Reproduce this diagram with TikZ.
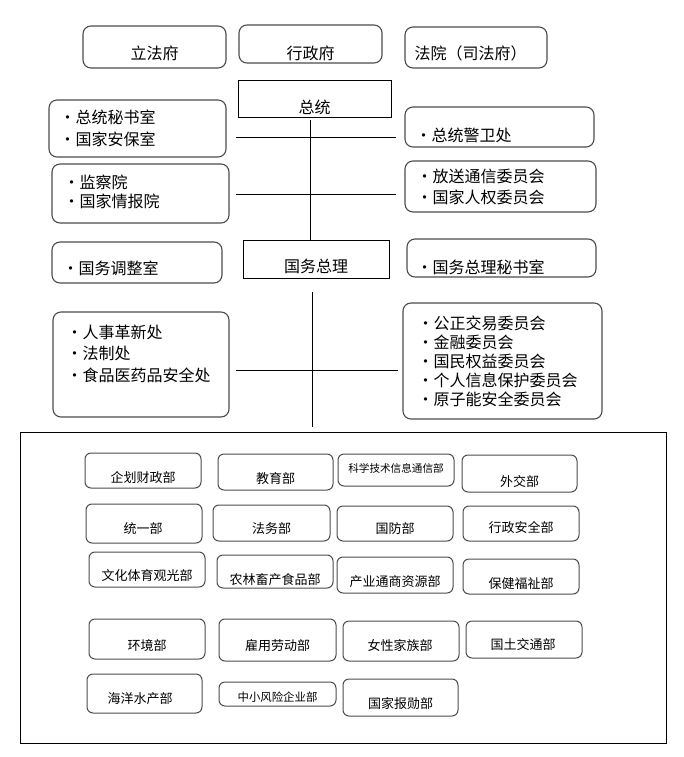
\documentclass[tikz,border=0pt]{standalone}
\usepackage{fontspec}
\setmainfont{Noto Sans CJK SC}
\usetikzlibrary{positioning}

\newcommand{\itm}{\makebox[2pt]{·}\hspace{7pt}}

\begin{document}
\begin{tikzpicture}[x=1pt,y=-1pt,font=\fontsize{16}{21}\selectfont,
  branch/.style={draw=black!70, line width=1.1pt, rounded corners=8pt, inner sep=0pt},
  chief/.style={draw=black, line width=0.8pt, inner sep=0pt},
  ministry/.style={draw=black!70, line width=1pt, rounded corners=6pt, inner sep=0pt},
  link/.style={draw=black, line width=0.8pt},
  every label/.style={inner sep=0pt},
  items/.style={anchor=west, align=left, inner sep=0pt}]

  \useasboundingbox (0,0) rectangle (683,757);

  % three branches
  \node[branch, minimum width=143pt, minimum height=42pt, label={[yshift=-6pt]center:立法府}] (lfb) at (154.5,47) {};
  \node[branch, minimum width=143pt, minimum height=38pt, label={[yshift=-9pt]center:行政府}] (xzf) at (310.5,44) {};
  \node[branch, minimum width=142pt, minimum height=41pt, label={[items, xshift=10pt, yshift=-5.5pt]west:法院（司法府）}] (fy) at (476,47.5) {};

  % president and prime minister
  \node[chief, minimum width=153pt, minimum height=37pt, label={[yshift=-8.5pt]center:总统}] (zt) at (314.5,98.5) {};
  \node[chief, minimum width=146pt, minimum height=38pt, label={[yshift=-7pt]center:国务总理}] (zl) at (316,259) {};

  % offices on the left
  \node[branch, minimum width=177pt, minimum height=57pt,
    label={[items, xshift=18pt, font=\fontsize{16}{22}\selectfont]west:\itm 总统秘书室\\\itm 国家安保室}] (mss) at (137.5,128.5) {};
  \node[branch, minimum width=177pt, minimum height=59pt,
    label={[items, xshift=19pt, yshift=2pt, font=\fontsize{16}{19}\selectfont]west:\itm 监察院\\\itm 国家情报院}] (jcy) at (140.5,193.5) {};
  \node[branch, minimum width=170pt, minimum height=41pt,
    label={[items, xshift=18pt, yshift=-5.5pt]west:\itm 国务调整室}] (twt) at (137,262.5) {};
  \node[branch, minimum width=176pt, minimum height=105pt,
    label={[items, xshift=21pt, yshift=11pt, font=\fontsize{16}{21.5}\selectfont]west:\itm 人事革新处\\\itm 法制处\\\itm 食品医药品安全处}] (rsc) at (141,364.5) {};

  % offices on the right
  \node[branch, minimum width=189pt, minimum height=40pt,
    label={[items, xshift=18pt, yshift=-8pt]west:\itm 总统警卫处}] (jwc) at (499.5,127) {};
  \node[branch, minimum width=191pt, minimum height=51pt,
    label={[items, xshift=19pt]west:\itm 放送通信委员会\\\itm 国家人权委员会}] (fsw) at (500.5,186.5) {};
  \node[branch, minimum width=189pt, minimum height=38pt,
    label={[items, xshift=17pt, yshift=-9pt]west:\itm 国务总理秘书室}] (zlm) at (501.5,258) {};
  \node[branch, minimum width=199pt, minimum height=116pt,
    label={[items, xshift=22pt, font=\fontsize{16}{19}\selectfont]west:\itm 公正交易委员会\\\itm 金融委员会\\\itm 国民权益委员会\\\itm 个人信息保护委员会\\\itm 原子能安全委员会}] (gzw) at (502.5,361) {};

  % ministries
  \node[chief, minimum width=646pt, minimum height=311pt] (cab) at (343,587.5) {};

  \begin{scope}[font=\fontsize{13}{16}\selectfont]
  \node[ministry, minimum width=116pt, minimum height=35pt, label={[yshift=-7.5pt]center:企划财政部}] (qhcz) at (143,470.5) {};
  \node[ministry, minimum width=115pt, minimum height=36pt, label={[yshift=-7pt]center:教育部}] (jy) at (275.5,472) {};
  \node[ministry, minimum width=116pt, minimum height=32pt, label={[yshift=2pt, font=\fontsize{10.6}{12}\selectfont]center:科学技术信息通信部}] (kxjs) at (396,470) {};
  \node[ministry, minimum width=115pt, minimum height=37pt, label={[yshift=-8.5pt]center:外交部}] (wj) at (519.5,473.5) {};

  \node[ministry, minimum width=116pt, minimum height=39pt, label={[xshift=-1pt, yshift=-5.5pt]center:统一部}] (ty) at (144,523.5) {};
  \node[ministry, minimum width=117pt, minimum height=36pt, label={[yshift=-6pt]center:法务部}] (fw) at (271.5,523) {};
  \node[ministry, minimum width=116pt, minimum height=35pt, label={[yshift=-5.5pt]center:国防部}] (gf) at (395,523.5) {};
  \node[ministry, minimum width=116pt, minimum height=35pt, label={[yshift=-4.5pt]center:行政安全部}] (xzaq) at (521,523.5) {};

  \node[ministry, minimum width=116pt, minimum height=35pt, label={[yshift=-6.5pt]center:文化体育观光部}] (whty) at (147,569.5) {};
  \node[ministry, minimum width=116pt, minimum height=33pt, label={[yshift=-8.5pt]center:农林畜产食品部}] (nlxc) at (275,571.5) {};
  \node[ministry, minimum width=116pt, minimum height=36pt, label={[yshift=-7pt]center:产业通商资源部}] (cytz) at (395,575) {};
  \node[ministry, minimum width=116pt, minimum height=35pt, label={[yshift=-7.5pt]center:保健福祉部}] (bjfz) at (521,576.5) {};

  \node[ministry, minimum width=116pt, minimum height=40pt, label={[yshift=-7pt]center:环境部}] (hj) at (147,639) {};
  \node[ministry, minimum width=117pt, minimum height=42pt, label={[yshift=-6pt]center:雇用劳动部}] (gyld) at (277.5,640) {};
  \node[ministry, minimum width=116pt, minimum height=40pt, label={[xshift=-1pt, yshift=-4pt]center:女性家族部}] (nxjz) at (401,641) {};
  \node[ministry, minimum width=116pt, minimum height=37pt, label={[xshift=-1pt, yshift=-5.5pt]center:国土交通部}] (gtjt) at (524,639.5) {};

  \node[ministry, minimum width=115pt, minimum height=39pt, label={[xshift=-4.5pt, yshift=-5.5pt]center:海洋水产部}] (hysc) at (144.5,693.5) {};
  \node[ministry, minimum width=117pt, minimum height=24pt, label={[yshift=-3pt, font=\fontsize{11.4}{13}\selectfont]center:中小风险企业部}] (zxqy) at (277.5,694) {};
  \node[ministry, minimum width=115pt, minimum height=37pt, label={[yshift=-6.5pt]center:国家报勋部}] (gjbx) at (400.5,697.5) {};
  \end{scope}

  % connectors
  \coordinate (v1t) at (310,120);
  \coordinate (h1w) at (236,137);
  \coordinate (h1e) at (396,137);
  \coordinate (h2w) at (236,194);
  \coordinate (h2e) at (396,194);
  \coordinate (v2t) at (312,292);
  \coordinate (v2b) at (312,427);
  \coordinate (h3w) at (236,370);
  \coordinate (h3e) at (398,370);

  \draw[link] (v1t) -- (v1t |- zl.north);
  \draw[link] (h1w) -- (h1e);
  \draw[link] (h2w) -- (h2e);
  \draw[link] (v2t) -- (v2b);
  \draw[link] (h3w) -- (h3e);

\end{tikzpicture}
\end{document}
